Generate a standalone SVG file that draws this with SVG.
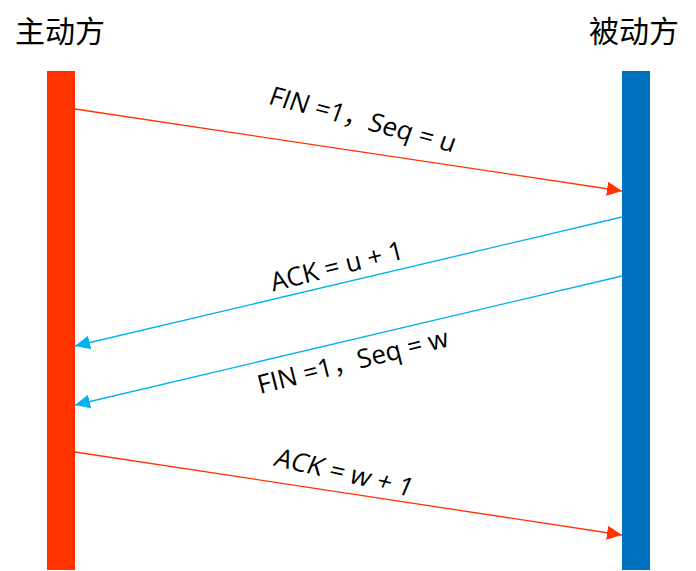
<svg xmlns="http://www.w3.org/2000/svg" width="696" height="571" viewBox="0 0 696 571">
<style>
.title{font-family:"Noto Sans CJK SC","Noto Sans",sans-serif;font-size:30px;fill:#000}
.lbl{font-family:"Open Sans","Noto Sans","Noto Sans CJK SC",sans-serif;font-size:26px;fill:#000}
.red{stroke:#FF3300;stroke-width:1.3;fill:none}
.blue{stroke:#00B0F0;stroke-width:1.3;fill:none}
</style>
<defs>
<marker id="ar" markerUnits="userSpaceOnUse" markerWidth="16" markerHeight="14" refX="15" refY="7" orient="auto"><path d="M0,0 L15,7 L0,14 Z" fill="#FF3300"/></marker>
<marker id="ab" markerUnits="userSpaceOnUse" markerWidth="16" markerHeight="14" refX="15" refY="7" orient="auto"><path d="M0,0 L15,7 L0,14 Z" fill="#00B0F0"/></marker>
</defs>
<rect width="696" height="571" fill="#fff"/>
<g id="active">
<text class="title" x="60" y="42" text-anchor="middle">主动方</text>
<rect x="47" y="71" width="28" height="499" fill="#FF3300"/>
</g>
<g id="passive">
<text class="title" x="634" y="42" text-anchor="middle">被动方</text>
<rect x="622" y="71" width="28" height="499" fill="#0070C0"/>
</g>
<g id="connectors">
<line class="red" x1="75" y1="109" x2="622" y2="191" marker-end="url(#ar)"/>
<line class="blue" x1="622" y1="217" x2="75" y2="346" marker-end="url(#ab)"/>
<line class="blue" x1="622" y1="276" x2="75" y2="405" marker-end="url(#ab)"/>
<line class="red" x1="75" y1="452" x2="622" y2="535" marker-end="url(#ar)"/>
<text class="lbl" text-anchor="middle" transform="translate(360,128) rotate(14.8) skewX(-5)">FIN =1，Seq = u</text>
<text class="lbl" text-anchor="middle" transform="translate(339,275) rotate(-14)">ACK = u + 1</text>
<text class="lbl" text-anchor="middle" transform="translate(355,370) rotate(-14.2)">FIN =1，Seq = w</text>
<text class="lbl" text-anchor="middle" transform="translate(341,481) rotate(13) skewX(-10)">ACK = w + 1</text>
</g>
</svg>
